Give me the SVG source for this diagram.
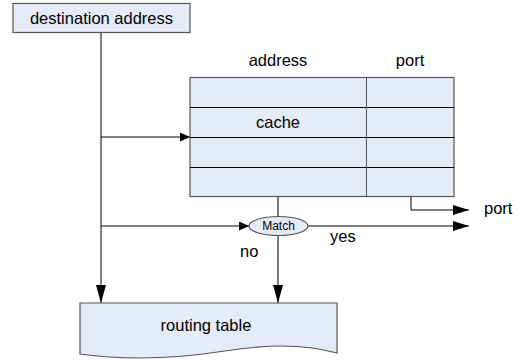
<svg xmlns="http://www.w3.org/2000/svg" width="519" height="360" viewBox="0 0 519 360">
  <style>
    .box { fill: #e6ecf7; stroke: #555; stroke-width: 1.2; }
    .row { stroke: #000; stroke-width: 1; fill: none; }
    .col { stroke: #555; stroke-width: 1; fill: none; }
    .wire { stroke: #000; stroke-width: 1; fill: none; }
    text { font-family: "Liberation Sans", Arial, sans-serif; font-size: 16.5px; fill: #000; }
    .small { font-size: 12px; }
  </style>
  <defs>
    <marker id="arrowDown" markerUnits="userSpaceOnUse" markerWidth="18" markerHeight="12" refX="18" refY="5" orient="auto">
      <path d="M0,0 L18,5 L0,10 Z" fill="#000"/>
    </marker>
    <marker id="arrowRight" markerUnits="userSpaceOnUse" markerWidth="16" markerHeight="12" refX="16" refY="5" orient="auto">
      <path d="M0,0 L16,5 L0,10 Z" fill="#000"/>
    </marker>
    <marker id="arrowIn" markerUnits="userSpaceOnUse" markerWidth="10" markerHeight="10" refX="10" refY="4.5" orient="auto">
      <path d="M0,0 L10,4.5 L0,9 Z" fill="#000"/>
    </marker>
  </defs>

  <g id="connectors">
    <line class="wire" x1="101" y1="33" x2="101" y2="303" marker-end="url(#arrowDown)"/>
    <line class="wire" x1="101" y1="137" x2="190" y2="137" marker-end="url(#arrowIn)"/>
    <line class="wire" x1="101" y1="226" x2="249" y2="226" marker-end="url(#arrowIn)"/>
    <line class="wire" x1="278" y1="197" x2="278" y2="216.5"/>
    <line class="wire" x1="278" y1="235.5" x2="278" y2="303" marker-end="url(#arrowDown)"/>
    <polyline class="wire" points="411,197 411,210 469,210" marker-end="url(#arrowRight)"/>
    <line class="wire" x1="308" y1="226" x2="469" y2="226" marker-end="url(#arrowRight)"/>
  </g>

  <g id="destination">
    <rect class="box" x="13" y="3.5" width="177" height="29"/>
    <text x="101.5" y="24" text-anchor="middle">destination address</text>
  </g>

  <g id="cache">
    <text x="278" y="66" text-anchor="middle">address</text>
    <text x="410" y="66" text-anchor="middle">port</text>
    <rect class="box" x="190" y="77.5" width="264" height="119"/>
    <line class="row" x1="190" y1="107.5" x2="454" y2="107.5"/>
    <line class="row" x1="190" y1="137.5" x2="454" y2="137.5"/>
    <line class="row" x1="190" y1="167.5" x2="454" y2="167.5"/>
    <line class="col" x1="366.5" y1="77.5" x2="366.5" y2="196.5"/>
    <text x="278" y="127.5" text-anchor="middle">cache</text>
  </g>

  <g id="match">
    <ellipse class="box" cx="278.5" cy="226" rx="29.5" ry="9.5"/>
    <text class="small" x="278.5" y="230" text-anchor="middle">Match</text>
    <text x="330" y="242">yes</text>
    <text x="240" y="257">no</text>
  </g>

  <g id="port-out">
    <text x="484" y="214">port</text>
  </g>

  <g id="routing-table">
    <path class="box" d="M80,303 H337 V353 C300,343 265,345 225,351 C180,358 130,361 80,354 Z"/>
    <text x="206" y="330.5" text-anchor="middle">routing table</text>
  </g>
</svg>
